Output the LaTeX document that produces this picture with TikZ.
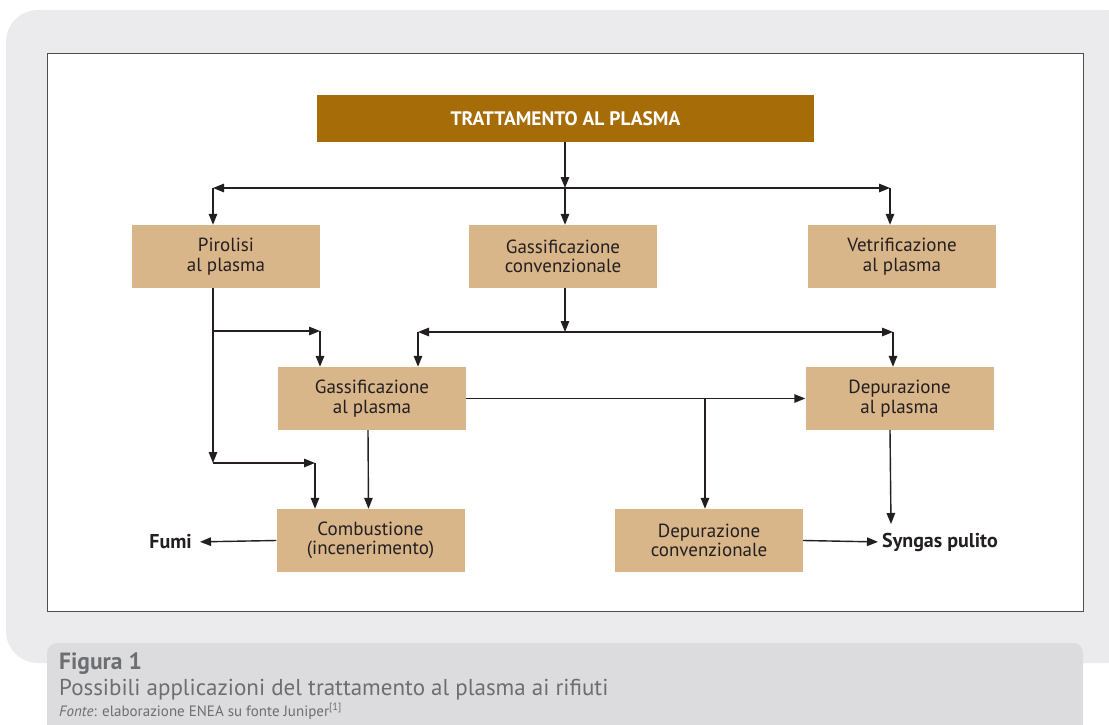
\documentclass[tikz,border=0pt]{standalone}
\usepackage{fontspec}
\setmainfont{PT Sans}
\usetikzlibrary{arrows.meta,calc}
\definecolor{panel}{HTML}{EBEBED}
\definecolor{capbg}{HTML}{DCDCDE}
\definecolor{captxt}{HTML}{6D6E71}
\definecolor{boxfill}{HTML}{D9B58A}
\definecolor{topfill}{HTML}{A66C08}
\definecolor{ink}{HTML}{231F20}
\tikzset{
  procbox/.style={fill=boxfill, draw=none, minimum width=188pt, minimum height=63pt,
    align=center, text=ink, font=\fontsize{19}{19.5}\selectfont, inner sep=0pt},
  topbox/.style={fill=topfill, draw=none, minimum width=497pt, minimum height=47pt,
    text=white, font=\fontsize{19.5}{20}\selectfont\bfseries, inner sep=0pt},
  outlbl/.style={text=ink, font=\fontsize{20}{22}\selectfont\bfseries, inner sep=0pt},
  arr/.style={draw=ink, line width=1.4pt, -{Triangle[length=11pt,width=8.5pt]}},
  captext/.style={text=captxt, anchor=base west, inner sep=0pt}
}
\begin{document}
\begin{tikzpicture}[x=1pt,y=-1pt]
\useasboundingbox (0,0) rectangle (1109,725);
% panels
\fill[panel, rounded corners=32pt] (6,10) rectangle (1140,663);
\fill[capbg, rounded corners=10pt] (47,643) rectangle (1083,740);
\filldraw[fill=white, draw=ink!80, line width=1pt] (47,54) rectangle (1083,611);
% nodes
\node[topbox] (top) at (565.5,118.5) {TRATTAMENTO AL PLASMA};
\node[procbox] (pir) at (226,256.5) {Pirolisi\\al plasma};
\node[procbox] (gconv) at (563,256.5) {Gassificazione\\convenzionale};
\node[procbox] (vetr) at (902,256.5) {Vetrificazione\\al plasma};
\node[procbox] (gpl) at (372,398.5) {Gassificazione\\al plasma};
\node[procbox] (dpl) at (899.5,398.5) {Depurazione\\al plasma};
\node[procbox] (comb) at (370.5,540.5) {Combustione\\(incenerimento)};
\node[procbox] (dconv) at (709,540.5) {Depurazione\\convenzionale};
\node[outlbl, anchor=east] (fumi) at (192,542) {Fumi};
\node[outlbl, anchor=west] (syn) at (882,542) {Syngas pulito};
% coordinates
\coordinate (j1) at (565,188);
\coordinate (l1) at (213,188);
\coordinate (r1) at (890,188);
\coordinate (j2) at (565,332);
\coordinate (l2) at (418,332);
\coordinate (r2) at (893,332);
\coordinate (p1) at (213,331);
\coordinate (p1e) at (320,331);
\coordinate (p2) at (213,463);
\coordinate (p2e) at (315,463);
\coordinate (b1) at (705,399);
\coordinate (dsrc) at (890,430);
\coordinate (synin) at (891,524);
% connectors
\draw[arr] (top.south -| j1) -- (j1);
\draw[arr] (j1) -- (gconv.north -| j1);
\draw[arr] (j1) -- (l1);
\draw[arr] (j1) -- (r1);
\draw[arr] (l1) -- (pir.north -| l1);
\draw[arr] (r1) -- (vetr.north -| r1);
\draw[arr] (gconv.south -| j2) -- (j2);
\draw[arr] (j2) -- (l2);
\draw[arr] (j2) -- (r2);
\draw[arr] (l2) -- (gpl.north -| l2);
\draw[arr] (r2) -- (dpl.north -| r2);
\draw[arr] (pir.south -| p1) -- (p2);
\draw[arr] (p1) -- (p1e);
\draw[arr] (p1e) -- (gpl.north -| p1e);
\draw[arr] (p2) -- (p2e);
\draw[arr] (p2e) -- (comb.north -| p2e);
\draw[arr] (gpl.east) -- (dpl.west);
\draw[arr] (b1) -- (dconv.north -| b1);
\draw[arr] ($(gpl.south)+(-4,0)$) -- ($(comb.north)+(-2,0)$);
\draw[arr] (dsrc) -- (synin);
\draw[arr, shorten >=8pt] (comb.west) -- (fumi.east);
\draw[arr, shorten >=4pt] (dconv.east) -- (syn.west);
% caption
\node[captext, font=\fontsize{23.5}{24}\selectfont\bfseries] (cap1) at (59,669) {Figura 1};
\node[captext, font=\fontsize{23}{24}\selectfont] (cap2) at (59,695) {Possibili applicazioni del trattamento al plasma ai rifiuti};
\node[captext, font=\fontsize{15}{16}\selectfont] (cap3) at (59,716) {\textit{Fonte}: elaborazione ENEA su fonte Juniper\textsuperscript{[1]}};
\end{tikzpicture}
\end{document}
